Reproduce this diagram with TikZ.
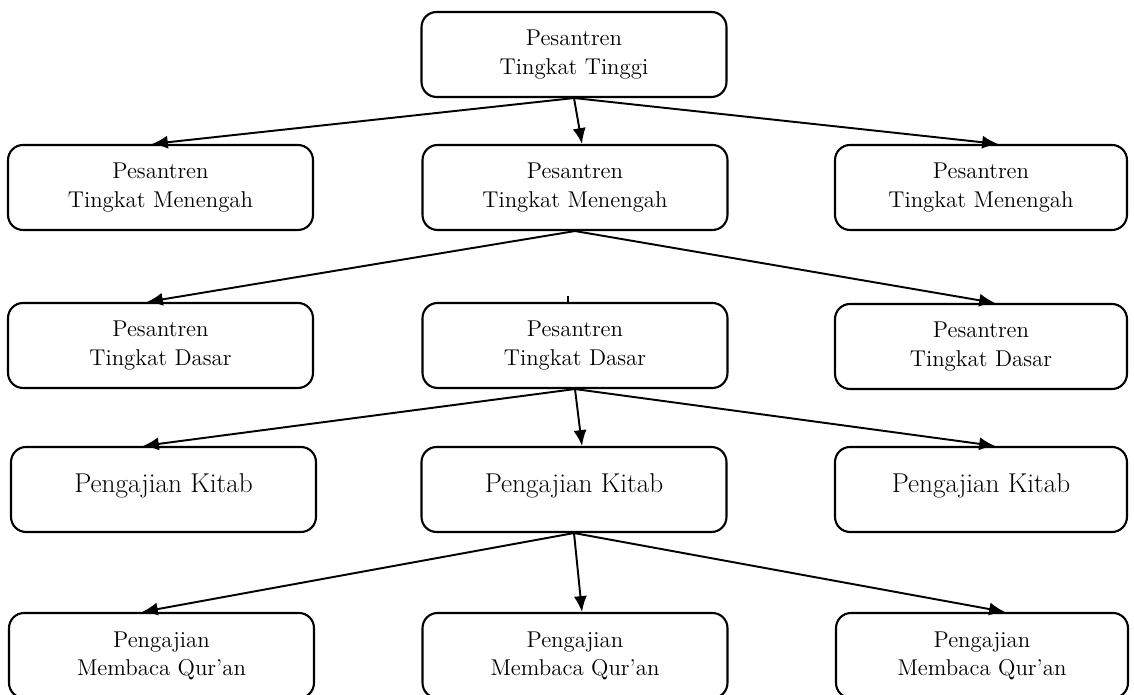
\documentclass[tikz,border=0pt]{standalone}
\usetikzlibrary{arrows.meta,calc}
\begin{document}
\begin{tikzpicture}[x=0.02cm,y=-0.02cm,
	kotak/.style={draw,line width=1.2pt,rounded corners=0.3cm,minimum width=6.1cm,minimum height=1.7cm,inner sep=0pt,align=center,font=\fontsize{13}{16}\selectfont},
	kanan/.style={kotak,minimum width=5.84cm},
	besar/.style={font=\fontsize{15.5}{18}\selectfont},
	panah/.style={-{Latex[length=9pt,width=7.5pt]},line width=1.1pt}]
		\useasboundingbox (0,0) rectangle (1134,695);
		\node[kotak] (t) at (574,54.5) {Pesantren\\Tingkat Tinggi};
		\node[kotak] (m1) at (160.5,187.5) {Pesantren\\Tingkat Menengah};
		\node[kotak] (m2) at (575,187.5) {Pesantren\\Tingkat Menengah};
		\node[kanan] (m3) at (981,187.5) {Pesantren\\Tingkat Menengah};
		\node[kotak] (d1) at (160.5,345.5) {Pesantren\\Tingkat Dasar};
		\node[kotak] (d2) at (575,345.5) {Pesantren\\Tingkat Dasar};
		\node[kanan] (d3) at (981,346.5) {Pesantren\\Tingkat Dasar};
		\node[kotak,besar] (k1) at (163.5,489.5) {\raisebox{7pt}{Pengajian Kitab}};
		\node[kotak,besar] (k2) at (574,489.5) {\raisebox{7pt}{Pengajian Kitab}};
		\node[kanan,besar] (k3) at (981,489.5) {\raisebox{7pt}{Pengajian Kitab}};
		\node[kotak] (q1) at (161.5,655.5) {Pengajian\\Membaca Qur'an};
		\node[kotak] (q2) at (575,655.5) {Pengajian\\Membaca Qur'an};
		\node[kanan] (q3) at (982,655.5) {Pengajian\\Membaca Qur'an};
		\foreach \a/\b/\dx in {t/m1/-8.5,t/m2/7,t/m3/17,m2/d1/-13.5,m2/d3/14,d2/k1/-20.5,d2/k2/8,d2/k3/14,k2/q1/-19.5,k2/q2/7,k2/q3/23}
		{\draw[panah] (\a.south)--($(\b.north)+(\dx,0)$);}
		\draw[line width=1.1pt] ($(d2.north)+(-7,0)$)--++(0,-6);
		\end{tikzpicture}
\end{document}
